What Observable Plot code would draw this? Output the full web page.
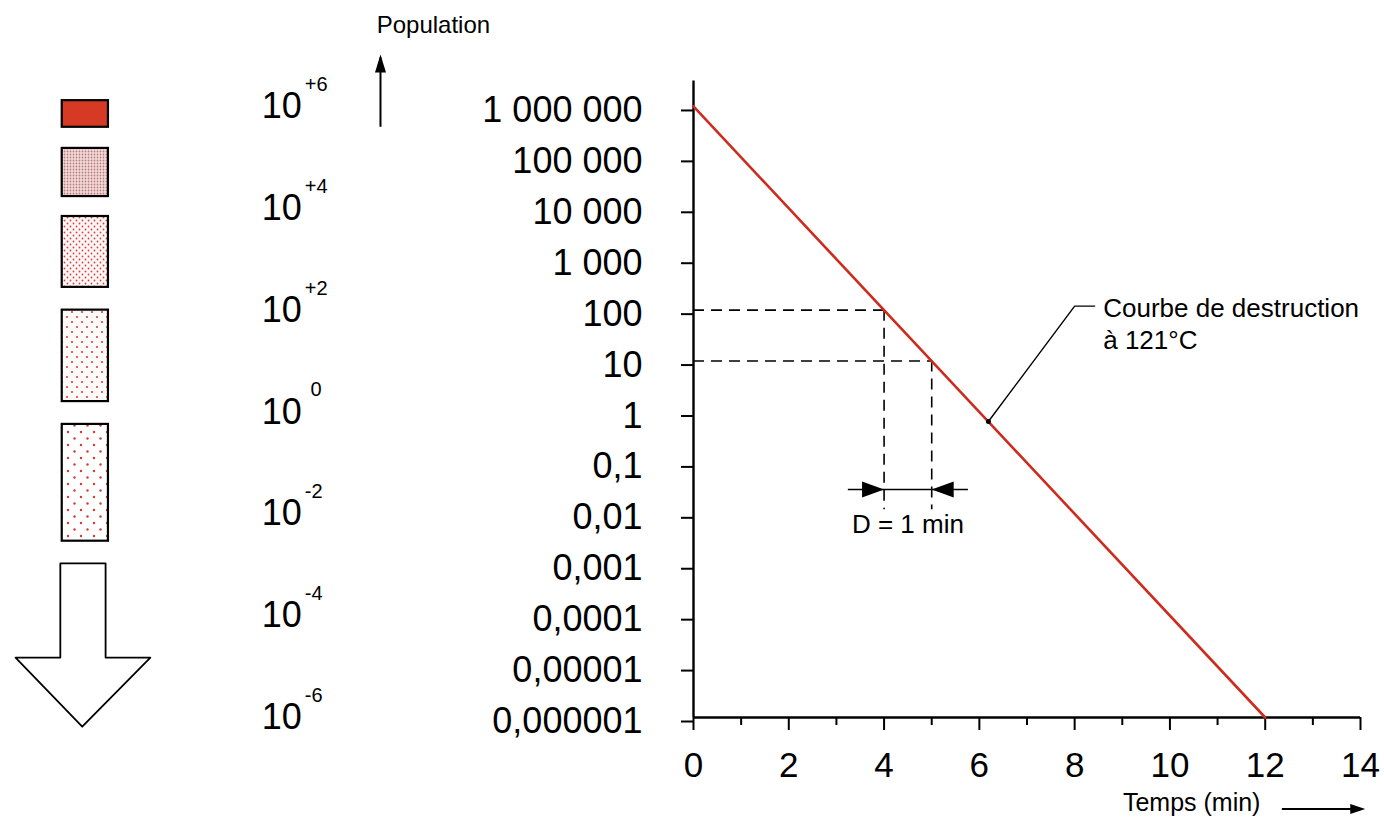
<!DOCTYPE html>
<html>
<head>
<meta charset="utf-8">
<script src="https://cdn.jsdelivr.net/npm/d3@7"></script>
<script src="https://cdn.jsdelivr.net/npm/@observablehq/plot@0.6"></script>
<style>
  html, body { margin: 0; padding: 0; background: #fff; }
  #chart { width: 1384px; height: 821px; }
</style>
</head>
<body>
<div id="chart"></div>
<script>
// ---------------- data ----------------
const curveTime = [0, 12];                 // Temps (min)
const curvePopulation = [1e6, 1e-6];       // Population
const yTicks = [1e6, 1e5, 1e4, 1e3, 1e2, 10, 1, 0.1, 0.01, 0.001, 1e-4, 1e-5, 1e-6];
const yTickLabels = ["1 000 000", "100 000", "10 000", "1 000", "100", "10", "1",
  "0,1", "0,01", "0,001", "0,0001", "0,00001", "0,000001"];
const xMajorTicks = [0, 2, 4, 6, 8, 10, 12, 14];
const xTickLabels = ["0", "2", "4", "6", "8", "10", "12", "14"];
const xMinorTicks = [1, 3, 5, 7, 9, 11, 13];
const readingTime = [4, 5];                // D-value reading
const readingPopulation = [100, 10];
const powerValues = [1e6, 1e4, 1e2, 1, 1e-2, 1e-4, 1e-6];
const powerExponents = ["+6", "+4", "+2", "\u00a00", "-2", "-4", "-6"];
// schematic population stages (upper / lower population of each box)
const stageHigh = [1.3e6, 1.5e5, 6.9e3, 1.0e2, 0.57];
const stageLow = [3.9e5, 1.7e4, 2.8e2, 1.6, 2.9e-3];

// ---------------- helpers ----------------
const FONT = "'Liberation Sans', Arial, Helvetica, sans-serif";
const curve = curveTime.map((t, i) => ({t, n: curvePopulation[i]}));
const readings = readingTime.map((t, i) => ({t, n: readingPopulation[i]}));
const yLabelOf = new Map(yTicks.map((v, i) => [v, yTickLabels[i]]));
const xLabelOf = new Map(xMajorTicks.map((v, i) => [v, xTickLabels[i]]));
const powers = powerValues.map((n, i) => ({n, e: powerExponents[i]}));
const stages = stageHigh.map((h, i) => ({high: h, low: stageLow[i], i}));

// filled triangular arrow head, tip at origin, pointing right
const head = (L, W) => ({draw(c) { c.moveTo(0, 0); c.lineTo(-L, -W); c.lineTo(-L, W); c.closePath(); }});

// pattern definitions for the schematic boxes
function defsMark() {
  const g = d3.create("svg:g");
  const defs = g.append("defs");
  const pat = (id, size, bg, dots, r, col) => {
    const p = defs.append("pattern").attr("id", id).attr("patternUnits", "userSpaceOnUse")
      .attr("width", size).attr("height", size);
    p.append("rect").attr("width", size).attr("height", size).attr("fill", bg);
    dots.forEach(([x, y]) => p.append("circle").attr("cx", x).attr("cy", y).attr("r", r).attr("fill", col));
  };
  pat("stage1", 3, "#f0dcdc", [[1.5, 1.5]], 0.9, "#c07a7a");
  pat("stage2", 6, "#fdf6f6", [[1.5, 1.5], [4.5, 4.5]], 0.9, "#d8453c");
  pat("stage3", 10, "#fffafa", [[2, 2], [7, 7]], 1.1, "#d8453c");
  pat("stage4", 13, "#ffffff", [[3, 3], [9.5, 9.5]], 1.2, "#d33a30");
  return g.node();
}
const stageFill = (i) => i === 0 ? "#d63a24" : `url(#stage${i})`;

// big downward arrow of the schematic
const bigArrow = [
  {t: -13.29, n: 1.06e-3}, {t: -12.34, n: 1.06e-3}, {t: -12.34, n: 1.5e-5},
  {t: -11.40, n: 1.5e-5}, {t: -12.83, n: 6.6e-7}, {t: -14.23, n: 1.5e-5},
  {t: -13.29, n: 1.5e-5}, {t: -13.29, n: 1.06e-3}
];

const chart = Plot.plot({
  width: 1384,
  height: 821,
  marginLeft: 693,
  marginRight: 24,
  marginTop: 80.5,
  marginBottom: 104,
  x: {domain: [0, 14], label: null},
  y: {type: "log", domain: [1e-6, 10 ** 6.5], label: null},
  style: {fontFamily: FONT, background: "white", color: "black", overflow: "visible"},
  marks: [
    defsMark,
    // ---- schematic on the left ----
    ...stages.map(s => Plot.rect([s], {
      x1: -13.25, x2: -12.28, y1: "low", y2: "high",
      fill: stageFill(s.i), stroke: "black", strokeWidth: 2.2
    })),
    Plot.line(bigArrow, {x: "t", y: "n", fill: "white", stroke: "black", strokeWidth: 1.8}),
    Plot.text(powers, {x: -8.2, y: "n", text: () => "10", textAnchor: "end", dx: -1, fontSize: 36}),
    Plot.text(powers, {x: -8.2, y: "n", text: "e", textAnchor: "start", dx: 2, dy: -22, fontSize: 20}),
    // Population label and arrow
    Plot.text(["Population"], {x: -6.65, y: 4e7, textAnchor: "start", fontSize: 24}),
    Plot.ruleX([-6.57], {y1: 3.9e5, y2: 9e6, stroke: "black", strokeWidth: 2}),
    Plot.dot([-6.57], {x: d => d, y: 1.05e7, symbol: head(18, 5.5), rotate: -90, fill: "black", stroke: null}),
    // ---- axes ----
    Plot.ruleX([0], {stroke: "black", strokeWidth: 2.4}),
    Plot.ruleY([1e-6], {stroke: "black", strokeWidth: 2.4}),
    Plot.axisY({ticks: yTicks, tickFormat: d => yLabelOf.get(d), tickSize: 12, tickPadding: 39,
      fontSize: 36, strokeWidth: 2, dy: 4, label: null}),
    Plot.axisX({ticks: xMajorTicks, tickFormat: d => xLabelOf.get(d), tickSize: 13, tickPadding: 22,
      fontSize: 35, strokeWidth: 2, label: null}),
    Plot.axisX({ticks: xMinorTicks, tickFormat: () => "", tickSize: 8, strokeWidth: 2, label: null}),
    // Temps label and arrow
    Plot.text(["Temps (min)"], {x: 11.9, y: 2.1e-8, textAnchor: "end", fontSize: 25}),
    Plot.ruleY([1.6e-8], {x1: 12.36, x2: 13.9, stroke: "black", strokeWidth: 2}),
    Plot.dot([1.6e-8], {x: 14.1, y: d => d, symbol: head(15, 5), fill: "black", stroke: null}),
    // ---- D-value reading ----
    Plot.ruleY(readings, {y: "n", x1: 0, x2: "t", stroke: "black", strokeWidth: 1.6, strokeDasharray: "11,7"}),
    Plot.ruleX(readings, {x: "t", y1: "n", y2: 0.012, stroke: "black", strokeWidth: 1.6, strokeDasharray: "11,7"}),
    Plot.ruleY([0.03], {x1: 3.25, x2: 5.77, stroke: "black", strokeWidth: 1.6}),
    Plot.dot([4], {x: d => d, y: 0.03, symbol: head(22, 8), fill: "black", stroke: null}),
    Plot.dot([5], {x: d => d, y: 0.03, symbol: head(22, 8), rotate: 180, fill: "black", stroke: null}),
    Plot.text(["D = 1 min"], {x: 4.5, y: 0.006, fontSize: 26}),
    // ---- destruction curve ----
    Plot.line(curve, {x: "t", y: "n", stroke: "#cf2b1d", strokeWidth: 2.6}),
    // annotation
    Plot.line([{t: 8.42, n: 120}, {t: 8.0, n: 120}, {t: 6.19, n: 0.65}],
      {x: "t", y: "n", stroke: "black", strokeWidth: 1.4}),
    Plot.dot([{t: 6.19, n: 0.65}], {x: "t", y: "n", r: 2.5, fill: "black", stroke: null}),
    Plot.text(["Courbe de destruction\nà 121°C"], {x: 8.6, y: 57, textAnchor: "start",
      lineHeight: 1.23, fontSize: 26})
  ]
});
document.getElementById("chart").appendChild(chart);
</script>
</body>
</html>
